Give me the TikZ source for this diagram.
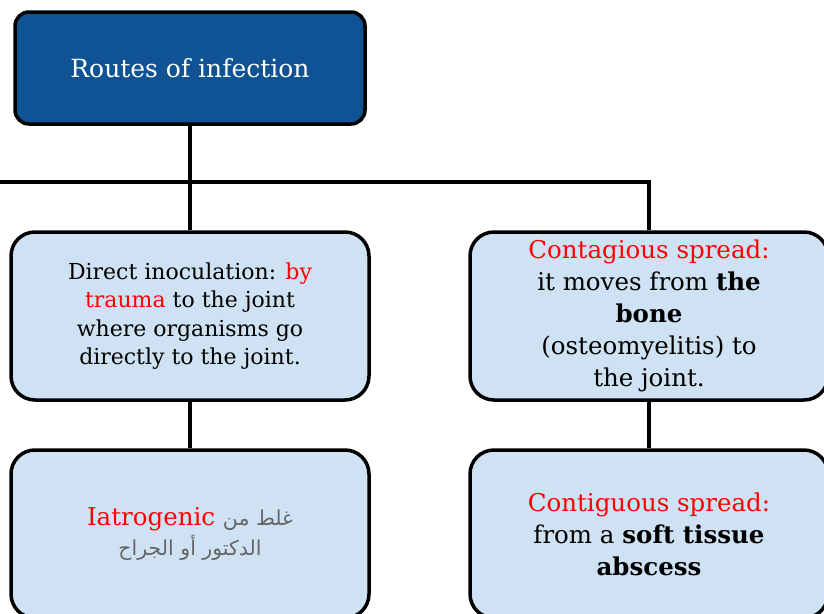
\documentclass[tikz,border=0pt]{standalone}
\usepackage{fontspec}
\setmainfont{DejaVu Serif}
\newfontfamily\arabicfont[Script=Arabic]{DejaVu Sans}
\TeXXeTstate=1
\definecolor{headblue}{HTML}{0F5394}
\definecolor{boxblue}{HTML}{CFE2F3}
\definecolor{notegray}{HTML}{666666}
\begin{document}
\begin{tikzpicture}[x=1pt,y=-1pt,
		routebox/.style={draw=black, line width=3.5pt, fill=boxblue, rounded corners=24pt, minimum width=358pt, minimum height=168pt, align=center, inner sep=0pt},
		link/.style={line width=3.5pt}]
	\useasboundingbox (0,0) rectangle (824,613);
	\clip (0,0) rectangle (824,613);
	% heading
	\node[draw=black, line width=3.5pt, fill=headblue, text=white, rounded corners=14pt, minimum width=350pt, minimum height=112pt, font=\fontsize{25}{30}\selectfont] (top) at (190,68) {Routes of infection};
	% the four routes
	\node[routebox, font=\fontsize{22}{28.5}\selectfont] (lmid) at (190,316) {Direct inoculation: \textcolor{red}{by}\\ \textcolor{red}{trauma} to the joint\\ where organisms go\\ directly to the joint.};
	\node[routebox, font=\fontsize{24.5}{32}\selectfont] (rmid) at (649,316) {\textcolor{red}{Contagious spread:}\\ it moves from \textbf{the}\\ \textbf{bone}\\ (osteomyelitis) to\\ the joint.};
	\node[routebox, font=\fontsize{24.5}{30}\selectfont] (lbot) at (190,534) {\textcolor{red}{Iatrogenic} {\arabicfont\fontsize{20.5}{30}\selectfont\color{notegray}\beginR غلط من\endR}\\ {\arabicfont\fontsize{20.5}{30}\selectfont\color{notegray}\beginR الدكتور أو الجراح\endR}};
	\node[routebox, font=\fontsize{24.5}{32}\selectfont] (rbot) at (649,534) {\textcolor{red}{Contiguous spread:}\\ from a \textbf{soft tissue}\\ \textbf{abscess}};
	% connectors
	\coordinate (lstart) at (-20,182);
	\draw[link] (top.south) -- (lmid.north);
	\draw[link] (lstart) -| (rmid.north);
	\draw[link] (lmid.south) -- (lbot.north);
	\draw[link] (rmid.south) -- (rbot.north);
\end{tikzpicture}
\end{document}
